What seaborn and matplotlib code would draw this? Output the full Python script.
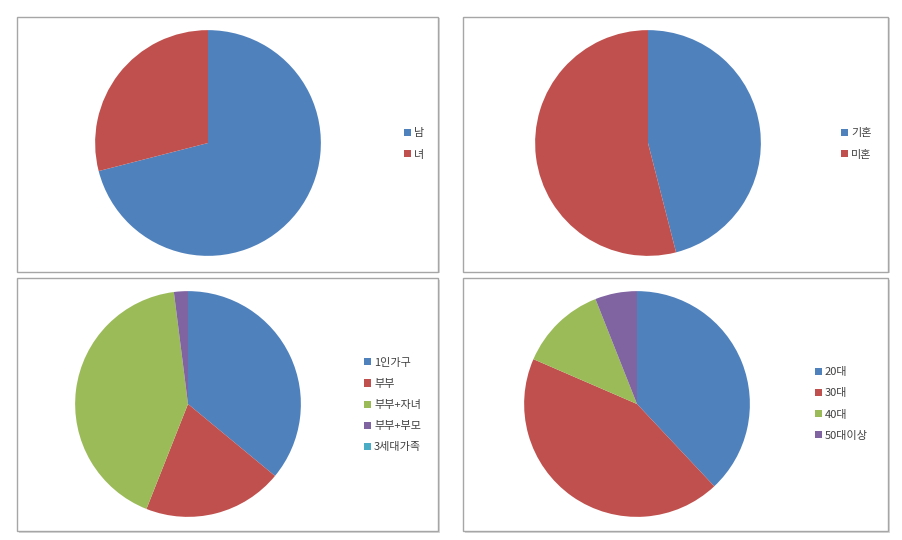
import matplotlib
matplotlib.use("Agg")
import matplotlib.pyplot as plt
from matplotlib.patches import Rectangle
import seaborn as sns

# ---- data ----
gender_labels = ["남", "녀"]
gender_values = [71, 29]

marriage_labels = ["기혼", "미혼"]
marriage_values = [46, 54]

household_labels = ["1인가구", "부부", "부부+자녀", "부부+부모", "3세대가족"]
household_values = [36, 20, 42, 2, 0]

age_labels = ["20대", "30대", "40대", "50대이상"]
age_values = [38, 43.5, 12.5, 6]

palette_hex = ["#4F81BD", "#C0504D", "#9BBB59", "#8064A2", "#4BACC6"]

sns.set_theme(style="white")
plt.rcParams['font.family'] = ['Noto Sans CJK KR', 'DejaVu Sans']
colors = sns.color_palette(palette_hex)

W, H = 902, 540
fig = plt.figure(figsize=(W / 100, H / 100), dpi=100)
fig.patch.set_facecolor("white")

def px_rect(x0, y0, x1, y1):
    return [x0 / W, 1 - y1 / H, (x1 - x0) / W, (y1 - y0) / H]

# panel boxes (x0, y0, x1, y1) in pixels
boxes = [(17, 17, 438, 272), (463, 17, 888, 272),
         (17, 278, 438, 531), (463, 278, 888, 531)]
for (x0, y0, x1, y1) in boxes:
    fig.add_artist(Rectangle((x0 / W + 1.5 / W, 1 - y1 / H - 1.5 / H),
                             (x1 - x0) / W, (y1 - y0) / H,
                             transform=fig.transFigure, facecolor="#d9d9d9",
                             edgecolor="none", zorder=-2))
    fig.add_artist(Rectangle((x0 / W, 1 - y1 / H), (x1 - x0) / W, (y1 - y0) / H,
                             transform=fig.transFigure, facecolor="white",
                             edgecolor="#a6a6a6", linewidth=1.0, zorder=-1))

R = 114
panels = [
    (gender_labels, gender_values, (208, 143), (404, 144)),
    (marriage_labels, marriage_values, (648, 143), (841, 144)),
    (household_labels, household_values, (188, 404), (364, 405)),
    (age_labels, age_values, (637, 404), (815, 404)),
]

for labels, values, (cx, cy), (lx, ly) in panels:
    ax = fig.add_axes(px_rect(cx - R, cy - R, cx + R, cy + R))
    ax.set_zorder(2)
    ax.patch.set_alpha(0)
    ax.pie(values, colors=colors[:len(values)], startangle=90,
           counterclock=False, radius=1.0,
           wedgeprops=dict(linewidth=0, edgecolor="none"))
    ax.set_xlim(-1.01, 1.01)
    ax.set_ylim(-1.01, 1.01)
    ax.set_aspect("equal")
    ax.axis("off")
    handles = [Rectangle((0, 0), 1, 1, facecolor=c, edgecolor="none")
               for c in colors[:len(values)]]
    leg = fig.legend(handles, labels, loc="center left",
                     bbox_to_anchor=(lx / W, 1 - ly / H),
                     frameon=False, fontsize=8, handlelength=0.6, handleheight=0.6,
                     handletextpad=0.3, labelspacing=1.0, labelcolor="#404040",
                     borderaxespad=0, borderpad=0)
    leg.set_zorder(3)

fig.savefig("out.png", dpi=100, facecolor="white")
